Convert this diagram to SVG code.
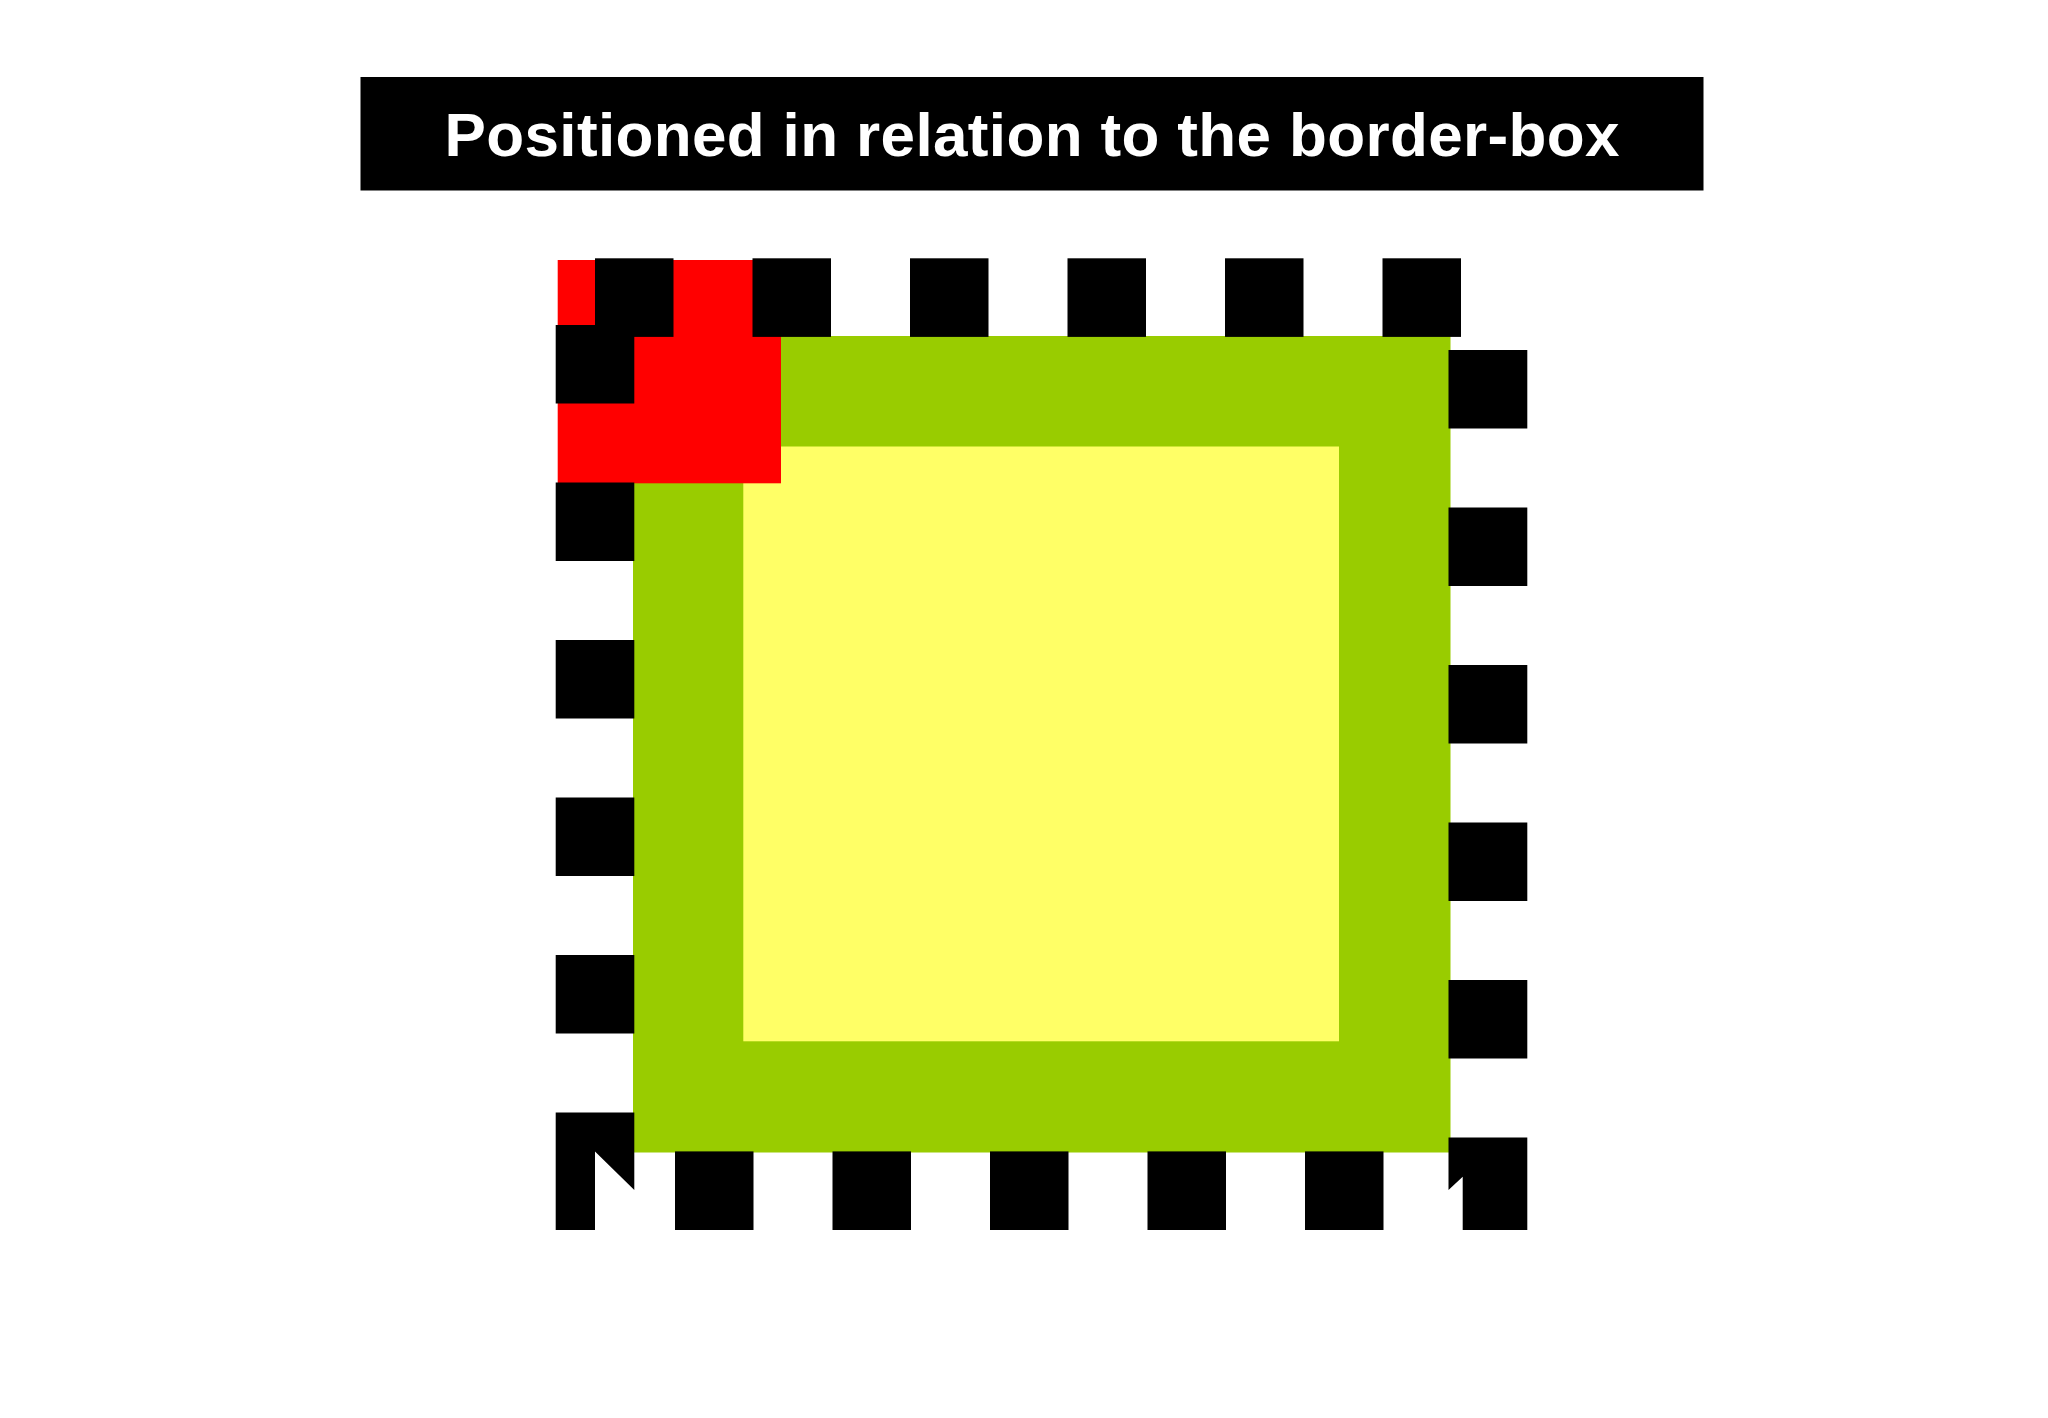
<svg xmlns="http://www.w3.org/2000/svg" width="2048" height="1418" viewBox="0 0 2048 1418">
  <style>
    .dash { fill: #000000; }
    .title { font-family: "Liberation Sans", Arial, sans-serif; font-weight: bold; font-size: 62px; fill: #ffffff; }
  </style>
  <rect x="0" y="0" width="2048" height="1418" fill="#ffffff"/>
  <g id="title">
    <rect x="360.5" y="77" width="1343" height="113.5" fill="#000000"/>
    <text class="title" x="1032" y="155.5" text-anchor="middle" textLength="1175" lengthAdjust="spacing">Positioned in relation to the border-box</text>
  </g>
  <g id="padding-box">
    <rect x="633" y="336" width="817.5" height="816.5" fill="#99cc00"/>
  </g>
  <g id="content-box">
    <rect x="743.3" y="446.5" width="595.7" height="594.8" fill="#ffff66"/>
  </g>
  <g id="positioned-box">
    <rect x="557.7" y="260" width="223.3" height="223.3" fill="#ff0000"/>
  </g>
  <g id="dashed-border">
    <!-- top -->
    <rect class="dash" x="595" y="258.3" width="78.5" height="78.6"/>
    <rect class="dash" x="752.5" y="258.3" width="78.5" height="78.6"/>
    <rect class="dash" x="910" y="258.3" width="78.5" height="78.6"/>
    <rect class="dash" x="1067.5" y="258.3" width="78.5" height="78.6"/>
    <rect class="dash" x="1225" y="258.3" width="78.5" height="78.6"/>
    <rect class="dash" x="1382.5" y="258.3" width="78.5" height="78.6"/>
    <!-- left -->
    <rect class="dash" x="555.7" y="325" width="78.6" height="78.5"/>
    <rect class="dash" x="555.7" y="482.5" width="78.6" height="78.5"/>
    <rect class="dash" x="555.7" y="640" width="78.6" height="78.5"/>
    <rect class="dash" x="555.7" y="797.5" width="78.6" height="78.5"/>
    <rect class="dash" x="555.7" y="955" width="78.6" height="78.5"/>
    <polygon class="dash" points="555.7,1112.5 634.3,1112.5 634.3,1190 595,1151.5 595,1230 555.7,1230"/>
    <!-- right -->
    <rect class="dash" x="1448.5" y="350" width="78.8" height="78.5"/>
    <rect class="dash" x="1448.5" y="507.5" width="78.8" height="78.5"/>
    <rect class="dash" x="1448.5" y="665" width="78.8" height="78.5"/>
    <rect class="dash" x="1448.5" y="822.5" width="78.8" height="78.5"/>
    <rect class="dash" x="1448.5" y="980" width="78.8" height="78.5"/>
    <polygon class="dash" points="1448.5,1137.5 1527.3,1137.5 1527.3,1230 1462.7,1230 1462.7,1176.7 1448.5,1190"/>
    <!-- bottom -->
    <rect class="dash" x="675" y="1151.4" width="78.5" height="78.6"/>
    <rect class="dash" x="832.5" y="1151.4" width="78.5" height="78.6"/>
    <rect class="dash" x="990" y="1151.4" width="78.5" height="78.6"/>
    <rect class="dash" x="1147.5" y="1151.4" width="78.5" height="78.6"/>
    <rect class="dash" x="1305" y="1151.4" width="78.5" height="78.6"/>
  </g>
</svg>
